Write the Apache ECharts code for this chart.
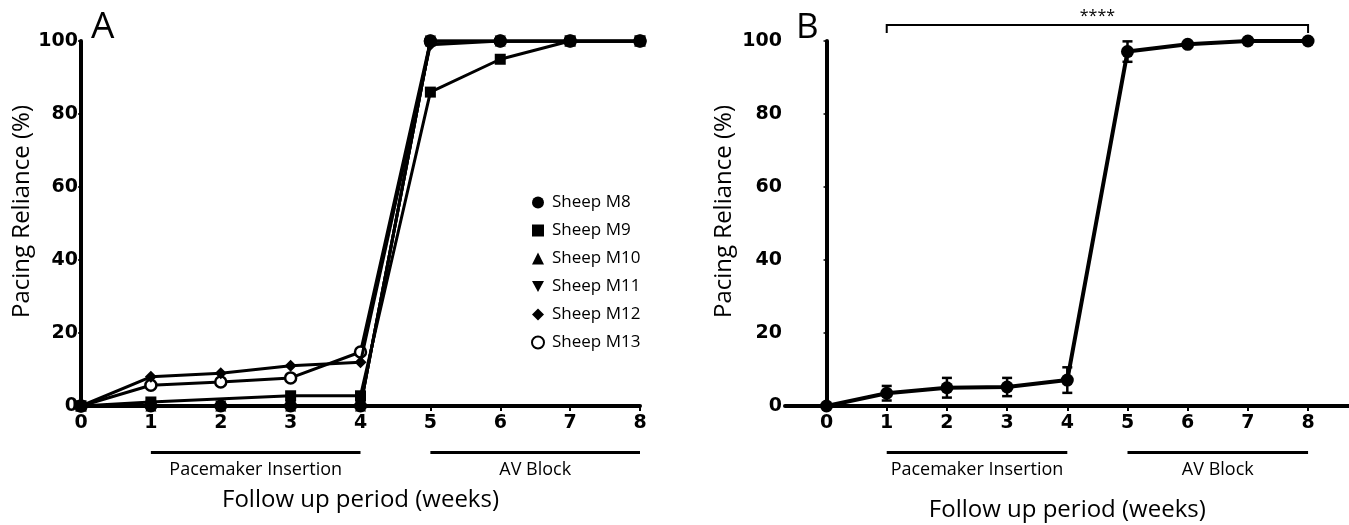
<!DOCTYPE html>
<html><head><meta charset="utf-8">
<script src="https://cdn.jsdelivr.net/npm/echarts@6/dist/echarts.min.js"></script>
<style>html,body{margin:0;padding:0;background:#fff}#c{width:1349px;height:525px}</style>
</head><body><div id="c"></div>
<script>
var weeks = [0,1,2,3,4,5,6,7,8];
var yTicks = [0,20,40,60,80,100];
var sheepNames = ['Sheep M8','Sheep M9','Sheep M10','Sheep M11','Sheep M12','Sheep M13'];
var m8  = [0,0,0,0,0,100,100,100,100];
var m9  = [0,1.1,null,2.8,2.8,86,95,100,100];
var m10 = [0,0,0,0,0,100,100,100,100];
var m11 = [0,0,0,0,0,100,100,100,100];
var m12 = [0,8,9,11,12,99,100,100,100];
var m13 = [0,5.7,6.6,7.7,14.8,100,100,100,100];
var meanB = [0,3.5,5.0,5.2,7.1,97.1,99.1,100,100];
var errB  = [0,2.0,2.7,2.5,3.5,2.8,0.6,0,0];
var phaseLabels = ['Pacemaker Insertion','AV Block'];
var phaseRanges = [[1,4],[5,8]];
var sigText = '****';
var sigRange = [1,8];
var xTitle = 'Follow up period (weeks)';
var yTitle = 'Pacing Reliance (%)';

var TF = '"DejaVu Sans",sans-serif';
var NF = '"Open Sans","Noto Sans",sans-serif';
var chart = echarts.init(document.getElementById('c'), null, {renderer:'canvas'});

function mk(name, data, symbol, size, z, extra){
  var s = {name:name, type:'line', xAxisIndex:0, yAxisIndex:0, color:'#000',
    data: weeks.map(function(w,i){return [w, data[i]];}),
    connectNulls:true, symbol:symbol, symbolSize:size, showAllSymbol:true,
    lineStyle:{color:'#000', width:3, type:'solid'},
    itemStyle:{color:'#000', borderColor:'#000', borderWidth:0, opacity:1},
    emphasis:{disabled:true}, animation:false, z:z};
  if (extra) for (var k in extra) s[k]=extra[k];
  return s;
}
var downTri = 'path://M0,0L10,0L5,9Z';
var series = [
  mk(sheepNames[5], m13, 'circle', 11, 2, {itemStyle:{color:'#fff', borderColor:'#000', borderWidth:2.5, opacity:1}}),
  mk(sheepNames[4], m12, 'diamond', 12, 3),
  mk(sheepNames[3], m11, downTri, 11, 3),
  mk(sheepNames[2], m10, 'triangle', 11, 3),
  mk(sheepNames[1], m9, 'rect', 11, 3),
  mk(sheepNames[0], m8, 'circle', 13, 4),
  {name:'mean', type:'line', xAxisIndex:1, yAxisIndex:1,
   data: weeks.map(function(w,i){return [w, meanB[i]];}),
   symbol:'circle', symbolSize:13, lineStyle:{color:'#000', width:4},
   itemStyle:{color:'#000'}, emphasis:{disabled:true}, animation:false, z:4},
  {name:'err', type:'custom', xAxisIndex:1, yAxisIndex:1, animation:false, z:3,
   data: weeks.map(function(w,i){return [w, meanB[i]-errB[i], meanB[i]+errB[i]];}),
   renderItem:function(params, api){
     if (api.value(2) - api.value(1) <= 0) return null;
     var lo = api.coord([api.value(0), api.value(1)]);
     var hi = api.coord([api.value(0), api.value(2)]);
     var hw = 5;
     var st = {stroke:'#000', lineWidth:2.5};
     return {type:'group', children:[
       {type:'line', shape:{x1:lo[0],y1:lo[1],x2:hi[0],y2:hi[1]}, style:st},
       {type:'line', shape:{x1:lo[0]-hw,y1:lo[1],x2:lo[0]+hw,y2:lo[1]}, style:st},
       {type:'line', shape:{x1:hi[0]-hw,y1:hi[1],x2:hi[0]+hw,y2:hi[1]}, style:st}
     ]};
   }}
];

function yAx(gi){
  return {type:'value', gridIndex:gi, min:0, max:100, interval:20,
    axisLine:{show:true, lineStyle:{color:'#000', width:4}},
    axisTick:{show:true, length:3, lineStyle:{color:'#000', width:1.5}},
    axisLabel:{color:'#000', fontFamily:TF, fontWeight:'bold', fontSize:19, margin:3},
    splitLine:{show:false},
    name:yTitle, nameLocation:'middle', nameGap:gi===0?37:49,
    nameTextStyle:{color:'#000', fontFamily:NF, fontSize:24, padding:[0,0,0,24]}};
}

var legendData = sheepNames.map(function(n, i){
  var icons = ['circle','rect','triangle',downTri,'diamond','circle'];
  var d = {name:n, icon:icons[i]};
  if (i === 5) d.itemStyle = {color:'#fff', borderColor:'#000', borderWidth:2};
  return d;
});

var option = {
  backgroundColor:'#fff',
  animation:false,
  grid:[
    {left:81, right:709, top:41, bottom:119, containLabel:false},
    {left:785, right:0, top:41, bottom:119, containLabel:false}
  ],
  legend:{orient:'vertical', left:526, top:189, itemWidth:12, itemHeight:12, itemGap:11,
    data:legendData, selectedMode:false,
    textStyle:{color:'#000', fontFamily:NF, fontSize:17, padding:[0,0,0,3]}},
  xAxis:[
    {type:'value', gridIndex:0, min:0, max:8, interval:1,
     axisLine:{onZero:false, lineStyle:{color:'#000', width:4}},
     axisTick:{show:true, length:5, lineStyle:{color:'#000', width:2}},
     axisLabel:{color:'#000', fontFamily:TF, fontWeight:'bold', fontSize:19, margin:8},
     splitLine:{show:false},
     name:xTitle, nameLocation:'middle', nameGap:82,
     nameTextStyle:{color:'#000', fontFamily:NF, fontSize:24}},
    {type:'value', gridIndex:1, min:-0.69, max:8.68,
     axisLine:{onZero:false, lineStyle:{color:'#000', width:4}},
     axisTick:{show:true, length:5, lineStyle:{color:'#000', width:2}, customValues:weeks},
     axisLabel:{color:'#000', fontFamily:TF, fontWeight:'bold', fontSize:19, margin:8, customValues:weeks},
     splitLine:{show:false}}
  ],
  yAxis:[yAx(0), yAx(1)],
  series:series
};
chart.setOption(option);

function px(axisIdx, v){ return chart.convertToPixel({xAxisIndex:axisIdx}, v); }
var g = [];
[0,1].forEach(function(ai){
  phaseRanges.forEach(function(r, k){
    var x1 = px(ai, r[0]), x2 = px(ai, r[1]);
    g.push({type:'line', shape:{x1:x1, y1:452.5, x2:x2, y2:452.5}, style:{stroke:'#000', lineWidth:3}});
    g.push({type:'text', x:(x1+x2)/2, y:470, style:{text:phaseLabels[k], fill:'#000', font:'18px '+NF, textAlign:'center', textVerticalAlign:'middle'}});
  });
});
var bx = (px(1,0)+px(1,8))/2;
g.push({type:'text', x:bx, y:510, style:{text:xTitle, fill:'#000', font:'24px '+NF, textAlign:'center', textVerticalAlign:'middle'}});
var sx1 = px(1, sigRange[0]), sx2 = px(1, sigRange[1]);
g.push({type:'polyline', shape:{points:[[sx1,33],[sx1,25],[sx2,25],[sx2,33]]}, style:{stroke:'#000', lineWidth:2, fill:null}});
g.push({type:'text', x:(sx1+sx2)/2, y:16, style:{text:sigText, fill:'#000', font:'16px '+NF, textAlign:'center', textVerticalAlign:'middle'}});
g.push({type:'text', x:91, y:27, style:{text:'A', fill:'#000', font:'37px '+NF, textVerticalAlign:'middle'}});
g.push({type:'text', x:796, y:28, style:{text:'B', fill:'#000', font:'35px '+NF, textVerticalAlign:'middle'}});
chart.setOption({graphic:g});
</script></body></html>
